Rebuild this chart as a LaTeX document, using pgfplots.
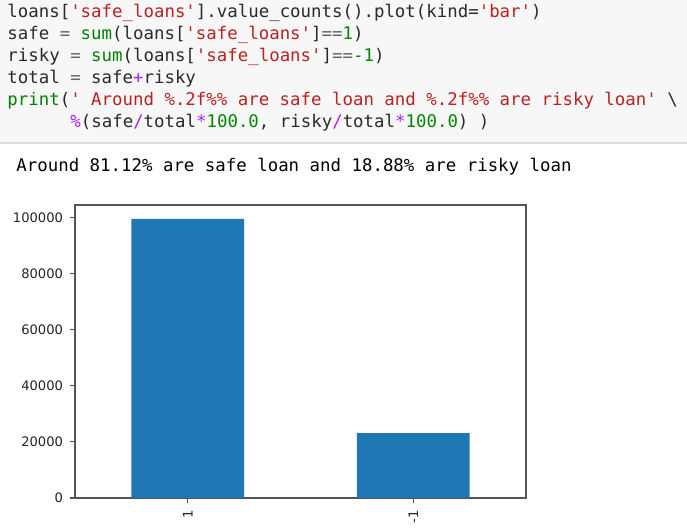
\documentclass[border=0pt]{standalone}
\usepackage{fontspec}
\setmainfont{DejaVu Sans}
\setmonofont{DejaVu Sans Mono}
\usepackage{xcolor}
\usepackage{pgfplots}
\pgfplotsset{compat=1.18}
\definecolor{barblue}{HTML}{1F77B4}
\definecolor{spine}{HTML}{555555}
\definecolor{codebg}{HTML}{F7F7F7}
\definecolor{cellline}{HTML}{DCDCDC}
\definecolor{ctext}{HTML}{2A2A2A}
\definecolor{cstr}{HTML}{BA2121}
\definecolor{cnum}{HTML}{008800}
\definecolor{cbuilt}{HTML}{008000}
\definecolor{cop}{HTML}{AA22FF}
\definecolor{cgray}{HTML}{666666}
\newcommand\cstr[1]{\textcolor{cstr}{#1}}
\newcommand\cnum[1]{\textcolor{cnum}{#1}}
\newcommand\cbuilt[1]{\textcolor{cbuilt}{#1}}
\newcommand\cop[1]{\textcolor{cop}{#1}}
\newcommand\ceq[1]{\textcolor{cgray}{#1}}

\begin{document}
\begin{tikzpicture}
% page is 687x530 px, drawn at 0.5pt per px
\useasboundingbox (0,0) rectangle (343.5pt,265pt);
\fill[white] (0,0) rectangle (343.5pt,265pt);
\fill[codebg] (0,193.5pt) rectangle (343.5pt,265pt);
\draw[cellline,line width=1.2pt] (0,193.5pt) -- (343.5pt,193.5pt);

\begin{scope}[every node/.style={anchor=base west,inner sep=0pt,text=ctext,
    font=\ttfamily\fontsize{8.7}{10}\selectfont}]
\node at (3.5pt,256pt) {loans[\cstr{'safe\_loans'}].value\_counts().plot(kind=\cstr{'bar'})};
\node at (3.5pt,245pt) {safe \ceq{=} \cbuilt{sum}(loans[\cstr{'safe\_loans'}]\ceq{==}\cnum{1})};
\node at (3.5pt,234pt) {risky \ceq{=} \cbuilt{sum}(loans[\cstr{'safe\_loans'}]\ceq{==}\cnum{-1})};
\node at (3.5pt,223pt) {total \ceq{=} safe\cop{+}risky};
\node at (3.5pt,212pt) {\cbuilt{print}(\cstr{' Around \%.2f\%\% are safe loan and \%.2f\%\% are risky loan'} \textbackslash};
\node at (35pt,201pt) {\cop{\%}(safe\cop{/}total\cop{*}\cnum{100.0}, risky\cop{/}total\cop{*}\cnum{100.0}) )};
\node[text=black] at (8pt,179pt) {Around 81.12\% are safe loan and 18.88\% are risky loan};
\end{scope}

\begin{axis}[
  at={(37.5pt,16pt)}, anchor=south west,
  scale only axis,
  width=225.5pt, height=146.5pt,
  ybar, bar width=0.5,
  xmin=-0.5, xmax=1.5,
  ymin=0, ymax=104430,
  xtick={0,1}, xticklabels={1,-1},
  ytick={0,20000,40000,60000,80000,100000},
  scaled y ticks=false,
  axis line style={draw=spine,line width=0.6pt},
  tick style={draw=spine,line width=0.6pt},
  tick align=outside, tick pos=left,
  major tick length=2.5pt,
  tick label style={font=\fontsize{6.55}{7}\selectfont,text=black!85,
    /pgf/number format/assume math mode=true},
  yticklabel style={/pgf/number format/fixed,/pgf/number format/1000 sep={}},
  x tick label style={rotate=90,anchor=east},
]
\addplot[fill=barblue,draw=none] coordinates {(0,99457) (1,23150)};
\end{axis}
\end{tikzpicture}
\end{document}
